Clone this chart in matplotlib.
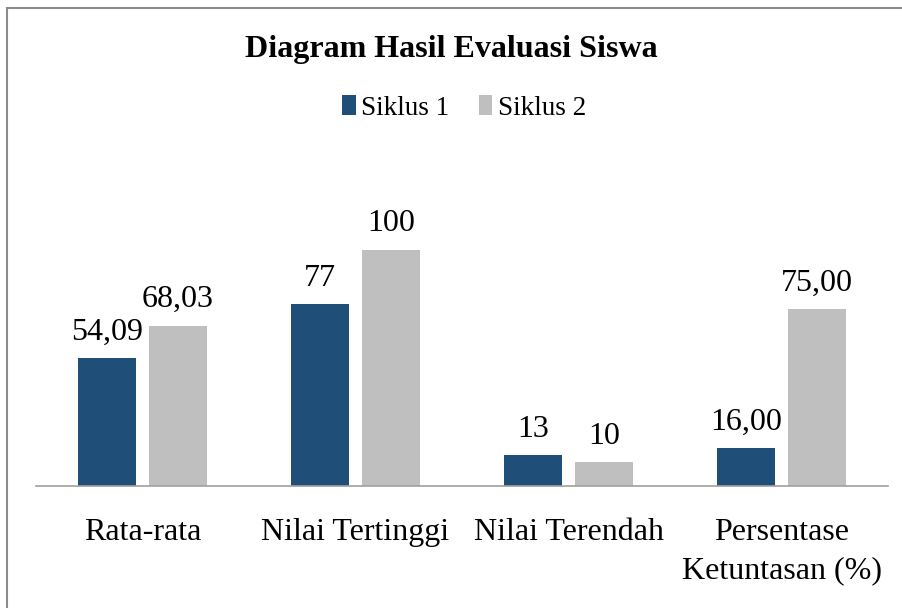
import matplotlib
matplotlib.use("Agg")
import matplotlib.pyplot as plt
from matplotlib.patches import Rectangle
import numpy as np

categories = ["Rata-rata", "Nilai Tertinggi", "Nilai Terendah", "Persentase\nKetuntasan (%)"]
series_names = ["Siklus 1", "Siklus 2"]
siklus1 = [54.09, 77, 13, 16.00]
siklus2 = [68.03, 100, 10, 75.00]
labels1 = ["54,09", "77", "13", "16,00"]
labels2 = ["68,03", "100", "10", "75,00"]
colors = ["#1F4E79", "#BFBFBF"]

plt.rcParams['font.family'] = ['Liberation Serif', 'DejaVu Serif']

W, H = 902, 608
fig = plt.figure(figsize=(W/100, H/100), dpi=100)
ax = fig.add_axes([36/W, 1-486/H, (888-36)/W, (486-203)/H])

x = np.arange(len(categories)) + 0.5
width = 0.268
off = 0.1667
b1 = ax.bar(x - off, siklus1, width, color=colors[0], label=series_names[0])
b2 = ax.bar(x + off, siklus2, width, color=colors[1], label=series_names[1])

for bars, labs in ((b1, labels1), (b2, labels2)):
    for r, t in zip(bars, labs):
        ax.annotate(t, (r.get_x() + r.get_width()/2, r.get_height()),
                    xytext=(0, 13.5), textcoords="offset points",
                    ha="center", va="baseline", fontsize=23)

ax.set_xlim(0, len(categories))
ax.set_ylim(0, 120)
ax.set_xticks(x)
ax.set_xticklabels(categories, fontsize=23, linespacing=1.4)
ax.tick_params(axis='x', length=0, pad=23)
ax.set_yticks([])
for s in ["top", "right", "left"]:
    ax.spines[s].set_visible(False)
ax.spines["bottom"].set_color("#A0A0A0")
ax.spines["bottom"].set_linewidth(1.2)

fig.text(0.5, 1-49/H, "Diagram Hasil Evaluasi Siswa", ha="center", va="center",
         fontsize=23, fontweight="bold")
fig.legend(handles=[b1, b2], loc="center", bbox_to_anchor=(464/W, 1-108/H),
           ncol=2, frameon=False, fontsize=19.5, handlelength=0.5, handleheight=0.75,
           handletextpad=0.2, columnspacing=1.1)

fig.patches.append(Rectangle((7/W, -0.1), 1.2, 1-8/H+0.1, transform=fig.transFigure,
                             fill=False, edgecolor="#8C8C8C", linewidth=1.5))

fig.savefig("out.png", dpi=100)
